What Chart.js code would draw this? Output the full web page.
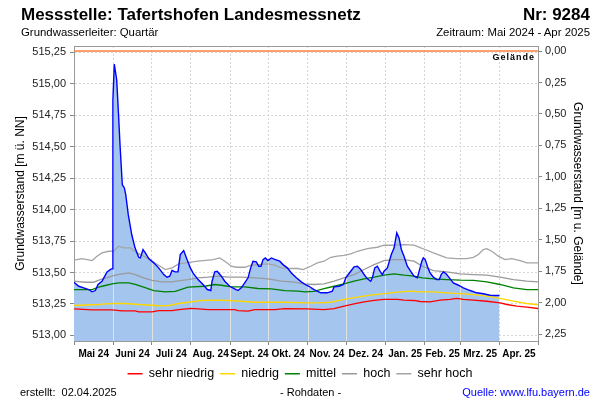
<!DOCTYPE html>
<html>
<head>
<meta charset="utf-8">
<script src="https://cdn.jsdelivr.net/npm/chart.js@4.4.1/dist/chart.umd.min.js"></script>
<style>
  body { margin: 0; background: #fff; font-family: "Liberation Sans", Arial, sans-serif; }
  #wrap { position: relative; width: 600px; height: 400px; overflow: hidden; }
  #c { position: absolute; left: 0; top: 0; }
  .t { position: absolute; white-space: nowrap; color: #000; line-height: 1; }
</style>
</head>
<body>
<div id="wrap">
  <canvas id="c" width="600" height="400"></canvas>
  <div class="t" style="left:21px;top:6px;font-size:17px;font-weight:bold">Messstelle: Tafertshofen Landesmessnetz</div>
  <div class="t" style="right:10px;top:6px;font-size:17px;font-weight:bold">Nr: 9284</div>
  <div class="t" style="left:21px;top:27px;font-size:11.4px">Grundwasserleiter: Quartär</div>
  <div class="t" style="right:10px;top:27px;font-size:11.4px">Zeitraum: Mai 2024 - Apr 2025</div>
  <div class="t" style="right:65px;top:53px;font-size:9px;font-weight:bold;letter-spacing:1px">Gelände</div>
  <div class="t" style="left:20px;top:387px;font-size:11px">erstellt:&nbsp;&nbsp;02.04.2025</div>
  <div class="t" style="left:280px;top:387px;font-size:11px">- Rohdaten -</div>
  <div class="t" style="right:10px;top:387px;font-size:11px;color:#0000ff">Quelle: www.lfu.bayern.de</div>
</div>
<script>
// x = Tage seit 01.05.2024
const monthLabels = ['Mai 24', 'Juni 24', 'Juli 24', 'Aug. 24', 'Sept. 24', 'Okt. 24', 'Nov. 24', 'Dez. 24', 'Jan. 25', 'Feb. 25', 'Mrz. 25', 'Apr. 25'];
const monthStarts = [0, 31, 61, 92, 123, 153, 184, 214, 245, 276, 304, 335, 365];
const leftTicks = [513.00, 513.25, 513.50, 513.75, 514.00, 514.25, 514.50, 514.75, 515.00, 515.25];
const rightTicks = [0, 0.25, 0.5, 0.75, 1.0, 1.25, 1.5, 1.75, 2.0, 2.25];
const gelaende = 515.26;
const leftMin = 512.956, leftMax = 515.30;

// Messwerte
const measDays = [0, 3.7, 7.6, 11.6, 14.2, 16.8, 18.9, 22, 24.2, 26, 29.3, 30.3, 30.6, 31.7, 33.6, 34.9, 36.2, 38, 39.6, 40.7,
  42.7, 45.4, 48, 49.6, 50.9, 52.2, 54.3, 56.1, 58.8, 62.7, 66.6, 70.6, 73.2, 75.3, 77.1, 79.7, 81.8, 83.6, 86.3, 88.9,
  91.5, 93.6, 97.6, 101.5, 104.9, 107.6, 108.6, 110.7, 112.7, 115.9, 118.6, 122.5, 126.4, 129, 131.6, 134.3, 136.9, 139, 140.8, 143.4,
  145.3, 147.1, 148.7, 150.5, 152.6, 155.2, 158.4, 161.8, 164.4, 167.8, 171, 174.9, 178.8, 182.8, 184.9, 188.8, 194.1, 199.3, 203.2, 204.6,
  208.5, 211.9, 213.8, 217.7, 220.3, 222.9, 225.6, 228.2, 230.8, 233.4, 234.7, 236.6, 238.6, 240.8, 242.6, 243.9, 246.5, 249.6, 251.8, 253.9,
  255.7, 257.5, 259.6, 262.2, 264.9, 267.5, 270.1, 272.2, 273.6, 274.8, 276.2, 278, 280.1, 282.7, 285.4, 287.4, 288.8, 290.6, 292.7, 295.3,
  298.4, 302.4, 306.3, 311.6, 316.8, 322, 327.3, 331.2, 334.6];
const measLevel = [513.423, 513.391, 513.378, 513.365, 513.347, 513.357, 513.405, 513.431, 513.471, 513.505, 513.529, 513.53, 514.87, 515.156, 515.03, 514.78, 514.516, 514.198, 514.172, 514.119,
  513.96, 513.802, 513.696, 513.656, 513.621, 513.616, 513.683, 513.656, 513.611, 513.577, 513.537, 513.484, 513.463, 513.471, 513.516, 513.505, 513.505, 513.643, 513.675, 513.603,
  513.537, 513.497, 513.444, 513.405, 513.365, 513.357, 513.431, 513.505, 513.51, 513.471, 513.431, 513.391, 513.37, 513.357, 513.378, 513.418, 513.458, 513.537, 513.59, 513.585,
  513.55, 513.55, 513.603, 513.616, 513.595, 513.616, 513.603, 513.59, 513.563, 513.537, 513.497, 513.458, 513.426, 513.399, 513.391, 513.365, 513.339, 513.339, 513.352, 513.386,
  513.391, 513.405, 513.458, 513.51, 513.545, 513.55, 513.524, 513.484, 513.45, 513.431, 513.458, 513.537, 513.55, 513.51, 513.484, 513.51, 513.537, 513.643, 513.696, 513.815,
  513.775, 513.683, 513.63, 513.55, 513.51, 513.471, 513.458, 513.537, 513.59, 513.616, 513.605, 513.55, 513.497, 513.463, 513.444, 513.444, 513.484, 513.505, 513.49, 513.458,
  513.418, 513.399, 513.378, 513.357, 513.339, 513.331, 513.32, 513.317, 513.317];

// Kennlinien
const sehrHochDays = [0, 6.3, 14.2, 18.1, 22, 27.3, 31.2, 35.2, 39.1, 44.3, 49.6, 54.8, 61.4, 67.9, 71.8, 77.1, 82.4, 88.9, 97.6, 109.4,
  114.6, 118.6, 123.8, 127.7, 134.3, 139.5, 144.8, 152.6, 157.9, 163.1, 168.4, 176.2, 180.2, 186.2, 191.4, 196.7, 202, 207.2, 212.4, 217.7,
  222.9, 230.8, 238.6, 243.9, 251.8, 259.6, 267.5, 272.8, 276.2, 282.7, 288, 293.2, 301.1, 309, 314.2, 318.1, 322, 324.7, 328.6, 333.8,
  339.1, 344.4, 350.9, 356.2, 365];
const sehrHochVals = [513.598, 513.611, 513.595, 513.63, 513.656, 513.669, 513.67, 513.709, 513.696, 513.696, 513.656, 513.63, 513.59, 513.55, 513.524, 513.537, 513.569, 513.579, 513.59, 513.603,
  513.616, 513.59, 513.55, 513.542, 513.542, 513.558, 513.563, 513.569, 513.558, 513.537, 513.532, 513.532, 513.524, 513.55, 513.577, 513.59, 513.621, 513.63, 513.637, 513.648,
  513.669, 513.69, 513.701, 513.717, 513.717, 513.722, 513.717, 513.696, 513.683, 513.656, 513.637, 513.616, 513.611, 513.611, 513.621, 513.643, 513.683, 513.69, 513.669, 513.63,
  513.603, 513.611, 513.595, 513.577, 513.577];

const hochDays = [0, 8.9, 15.5, 20.7, 27.3, 32.5, 37.8, 43, 48.2, 54.8, 61.4, 69.2, 76.9, 85, 89.7, 97.6, 105.5, 113.3, 121.2, 131.6,
  142.2, 152.6, 163.1, 173.6, 180, 188.8, 196.7, 204.6, 212.4, 220.3, 228.2, 236.1, 243.9, 251.8, 259.6, 267.5, 274, 282.7, 293.2, 303.7,
  314.2, 324.7, 335.2, 345.7, 356.2, 365];
const hochVals = [513.431, 513.423, 513.423, 513.444, 513.463, 513.479, 513.49, 513.497, 513.484, 513.458, 513.437, 513.426, 513.426, 513.437, 513.444, 513.458, 513.463, 513.471, 513.463, 513.463,
  513.458, 513.45, 513.431, 513.423, 513.41, 513.405, 513.41, 513.431, 513.458, 513.484, 513.524, 513.563, 513.595, 513.603, 513.603, 513.59, 513.55, 513.516, 513.505, 513.49,
  513.484, 513.479, 513.463, 513.444, 513.431, 513.426];

const mittelDays = [0, 14.2, 19.4, 24.6, 29.9, 35.2, 43, 48.2, 54.8, 62.7, 71.8, 79.7, 89.7, 102.8, 110.7, 115.9, 123.8, 134.3, 144.8, 155.2,
  165.8, 176.2, 181.6, 188.8, 196.7, 204.6, 212.4, 220.3, 228.2, 236.1, 243.9, 251.8, 259.6, 267.5, 274, 282.7, 293.2, 303.7, 314.2, 324.7,
  335.2, 345.7, 356.2, 365];
const mittelVals = [513.365, 513.365, 513.384, 513.397, 513.41, 513.418, 513.418, 513.405, 513.384, 513.357, 513.347, 513.35, 513.384, 513.391, 513.405, 513.399, 513.386, 513.386, 513.373, 513.37,
  513.357, 513.352, 513.347, 513.35, 513.373, 513.391, 513.41, 513.431, 513.45, 513.463, 513.479, 513.49, 513.479, 513.471, 513.458, 513.45, 513.444, 513.439, 513.437, 513.426,
  513.405, 513.378, 513.365, 513.365];

const niedrigDays = [0, 19.4, 24.6, 32.5, 40.4, 50.9, 61.4, 66.6, 74.5, 82.4, 90.3, 100.2, 110.7, 121.2, 131.6, 142.2, 152.6, 163.1, 173.6, 183.6,
  191.4, 201.9, 212.4, 222.9, 233.4, 243.9, 254.4, 264.9, 272.2, 282.7, 293.2, 303.7, 314.2, 324.7, 335.2, 345.7, 356.2, 365];
const niedrigVals = [513.238, 513.246, 513.251, 513.254, 513.254, 513.246, 513.24, 513.236, 513.238, 513.254, 513.264, 513.278, 513.28, 513.278, 513.272, 513.264, 513.264, 513.264, 513.262, 513.259,
  513.259, 513.264, 513.286, 513.304, 513.32, 513.333, 513.344, 513.352, 513.347, 513.347, 513.339, 513.333, 513.325, 513.312, 513.294, 513.272, 513.254, 513.244];

const sehrNiedrigDays = [0, 14.2, 29.9, 37.8, 48.2, 50.9, 61.4, 66.6, 77.1, 82.4, 92.3, 105.5, 126.4, 129, 136.9, 142.2, 157.9, 165.8, 183.6, 196.7,
  204.6, 212.4, 220.3, 228.2, 236.1, 243.9, 254.4, 259.6, 267.5, 272.2, 280.1, 288, 295.9, 301.1, 306.3, 314.2, 324.7, 335.2, 340.5, 348.3,
  356.2, 365];
const sehrNiedrigVals = [513.212, 513.204, 513.204, 513.196, 513.196, 513.188, 513.188, 513.198, 513.198, 513.206, 513.215, 513.206, 513.206, 513.198, 513.193, 513.206, 513.206, 513.214, 513.212, 513.206,
  513.214, 513.233, 513.251, 513.267, 513.278, 513.286, 513.286, 513.28, 513.278, 513.27, 513.267, 513.28, 513.286, 513.294, 513.286, 513.28, 513.272, 513.259, 513.246, 513.233,
  513.225, 513.214];

const pts = (days, vals) => days.map((d, i) => ({ x: d, y: vals[i] }));
const fmt = v => v.toFixed(2).replace('.', ',');
const refLine = (label, days, vals, color) => ({
  label, data: pts(days, vals), borderColor: color, backgroundColor: color,
  borderWidth: 1.3, pointRadius: 0, tension: 0, fill: false, order: 2
});

// Gitterlinien über der Fläche (hell, durchgezogen) + oberer Rahmen
const overlay = {
  id: 'overlay',
  beforeDatasetsDraw(chart) {
    const { ctx, chartArea: a, scales } = chart;
    const p = chart.getDatasetMeta(5).data;
    ctx.save();
    ctx.beginPath();
    ctx.moveTo(p[0].x, a.bottom);
    p.forEach(e => ctx.lineTo(e.x, e.y));
    ctx.lineTo(p[p.length - 1].x, a.bottom);
    ctx.closePath();
    ctx.clip();
    ctx.strokeStyle = '#e2e2e2';
    ctx.lineWidth = 1;
    monthStarts.slice(1, -1).forEach(d => {
      const x = Math.round(scales.x.getPixelForValue(d)) + 0.5;
      ctx.beginPath(); ctx.moveTo(x, a.top); ctx.lineTo(x, a.bottom); ctx.stroke();
    });
    ctx.restore();
    ctx.save();
    ctx.strokeStyle = '#999';
    ctx.lineWidth = 1;
    ctx.beginPath();
    ctx.moveTo(a.left, Math.round(a.top) + 0.5); ctx.lineTo(a.right, Math.round(a.top) + 0.5);
    ctx.stroke();
    ctx.restore();
  }
};

const gridDash = { color: '#d6d6d6', tickColor: '#888', tickLength: 4, tickBorderDash: [] };

new Chart(document.getElementById('c'), {
  type: 'line',
  data: {
    datasets: [
      refLine('sehr niedrig', sehrNiedrigDays, sehrNiedrigVals, '#ff0000'),
      refLine('niedrig', niedrigDays, niedrigVals, '#ffd700'),
      refLine('mittel', mittelDays, mittelVals, '#008000'),
      refLine('hoch', hochDays, hochVals, '#9a9a9a'),
      refLine('sehr hoch', sehrHochDays, sehrHochVals, '#a4a4a4'),
      {
        label: 'Messwerte', data: pts(measDays, measLevel), borderColor: '#0000ff', backgroundColor: '#a4c6ee',
        borderWidth: 1.4, pointRadius: 0, tension: 0, fill: 'start', order: 0
      },
      {
        label: 'Gelände', data: pts([0, 365], [gelaende, gelaende]), borderColor: '#ff7f3a',
        borderWidth: 1.5, pointRadius: 0, fill: false, order: 1
      }
    ]
  },
  options: {
    responsive: false,
    animation: false,
    layout: { padding: { top: 46, bottom: 10, left: 0, right: 0 } },
    plugins: {
      filler: { drawTime: 'beforeDatasetsDraw' },
      tooltip: { enabled: false },
      legend: {
        position: 'bottom',
        labels: {
          filter: item => item.datasetIndex < 5,
          usePointStyle: true, pointStyle: 'line', pointStyleWidth: 15,
          padding: 6, color: '#000',
          font: { family: '"Liberation Sans", Arial, sans-serif', size: 12.5 }
        }
      }
    },
    scales: {
      x: {
        type: 'linear', position: 'bottom', min: 0, max: 365, weight: 0,
        afterBuildTicks: s => { s.ticks = monthStarts.map(v => ({ value: v })); },
        afterFit: s => { s.height = 5; },
        ticks: { display: false },
        grid: gridDash,
        border: { color: '#999', dash: [2, 2] }
      },
      xl: {
        type: 'linear', position: 'bottom', min: 0, max: 365, weight: 1,
        afterBuildTicks: s => { s.ticks = monthStarts.slice(0, -1).map((v, i) => ({ value: (v + monthStarts[i + 1]) / 2 })); },
        afterFit: s => { s.height = 15.5; },
        grid: { display: false, drawTicks: false },
        border: { display: false },
        ticks: {
          autoSkip: false, maxRotation: 0, padding: 2, color: '#000',
          font: { family: '"Liberation Sans", Arial, sans-serif', size: 10, weight: 'bold' },
          callback: (v, i) => monthLabels[i]
        }
      },
      y: {
        type: 'linear', position: 'left', min: leftMin, max: leftMax,
        afterBuildTicks: s => { s.ticks = leftTicks.map(v => ({ value: v })); },
        afterFit: s => { s.width = 74; },
        ticks: {
          padding: 4, color: '#222', callback: v => fmt(v),
          font: { family: '"Liberation Sans", Arial, sans-serif', size: 11 }
        },
        grid: gridDash,
        border: { color: '#999', dash: [2, 2] },
        title: {
          display: true, text: 'Grundwasserstand [m ü. NN]', color: '#000',
          padding: { top: 13, bottom: 0 },
          font: { family: '"Liberation Sans", Arial, sans-serif', size: 12 }
        }
      },
      y2: {
        type: 'linear', position: 'right', reverse: true,
        min: gelaende - leftMax, max: gelaende - leftMin,
        afterBuildTicks: s => { s.ticks = rightTicks.map(v => ({ value: v })); },
        afterFit: s => { s.width = 62; },
        ticks: {
          padding: 3, color: '#222', callback: v => fmt(v),
          font: { family: '"Liberation Sans", Arial, sans-serif', size: 11 }
        },
        grid: { drawOnChartArea: false, tickColor: '#888', tickLength: 4, tickBorderDash: [] },
        border: { color: '#999' },
        title: {
          display: true, text: 'Grundwasserstand [m u. Gelände]', color: '#000',
          padding: { top: 15, bottom: 0 },
          font: { family: '"Liberation Sans", Arial, sans-serif', size: 12 }
        }
      }
    }
  },
  plugins: [overlay]
});
</script>
</body>
</html>
